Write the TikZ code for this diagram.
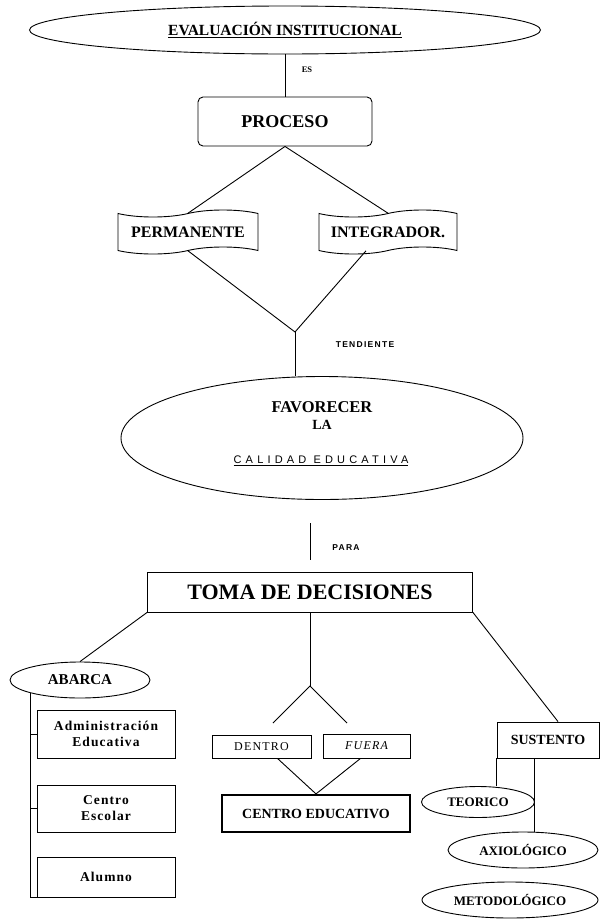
\documentclass[tikz,border=0pt]{standalone}
\usepackage{fontspec}
\setmainfont{Liberation Serif}
\newfontfamily\spacedsans[LetterSpace=38]{Liberation Sans}
\newfontfamily\tightsans[LetterSpace=15]{Liberation Sans}
\newfontfamily\spacedserif[LetterSpace=8]{Liberation Serif}
\newfontfamily\lightserif[LetterSpace=10]{Liberation Serif}
\usetikzlibrary{shapes.geometric,shapes.symbols,calc}
\begin{document}
\begin{tikzpicture}[x=1pt,y=-1pt,line width=0.9pt,
  lbl/.style={inner sep=0pt,font=\tightsans\bfseries\fontsize{8.5}{9}\selectfont},
  rbox/.style={draw,rectangle,inner sep=0pt,align=center},
  ell/.style={draw,ellipse,inner sep=0pt,align=center},
  ribbon/.style={draw,tape,inner sep=0pt,tape bend height=7pt,
    font=\bfseries\fontsize{16}{18}\selectfont},
  bigb/.style={font=\bfseries\fontsize{#1}{#1}\selectfont},
  smallbox/.style={rbox,minimum width=138pt,font=\spacedserif\bfseries\fontsize{13.5}{16}\selectfont}]
\useasboundingbox (0,0) rectangle (601,919);

% top
\node[ell,minimum width=511pt,minimum height=48pt,bigb=15.5] (eval) at (285,30) {\underline{EVALUACIÓN INSTITUCIONAL}};
\node[inner sep=0pt,bigb=8.5] (es) at (307,70) {ES};
\node[rbox,rounded corners=5pt,minimum width=174pt,minimum height=49pt,bigb=18] (proc) at (285,121.5) {PROCESO};
\draw (eval.south) -- (proc.north);

\node[ribbon,minimum width=140pt,minimum height=44pt] (perm) at (188,232) {PERMANENTE};
\node[ribbon,minimum width=138pt,minimum height=44pt] (integ) at (388,232) {INTEGRADOR.};
\draw (proc.south) -- (perm.north);
\draw (proc.south) -- (integ.north);

\coordinate (j1) at (295,332);
\draw (perm.south) -- (j1) -- ($(integ.south)+(-22,0)$);

\node[lbl] (tend) at (365,345) {TENDIENTE};

% favorecer
\node[ell,minimum width=402pt,minimum height=123pt] (fav) at (322,438) {};
\node[bigb=16.5,inner sep=0pt] (favt) at (322,407) {FAVORECER};
\node[bigb=14,inner sep=0pt] (lat) at (322,425) {LA};
\node[inner sep=0pt,font=\spacedsans\fontsize{11}{12}\selectfont] (cal) at (321,461) {\underline{CALIDAD EDUCATIVA}};
\draw (j1) -- (j1 |- fav.north);

% para
\coordinate (pa) at (310,523);
\coordinate (pb) at (310,560);
\draw (pa) -- (pb);
\node[lbl] (para) at (346,548) {PARA};

% toma
\node[rbox,minimum width=325pt,minimum height=40pt,bigb=22] (toma) at (310,592) {TOMA DE DECISIONES};

% left branch
\node[ell,minimum width=140pt,minimum height=36pt,bigb=15] (abarca) at (80,680) {ABARCA};
\draw (toma.south west) -- (abarca.north);
\node[smallbox,minimum height=48pt] (admin) at (106,734) {Administración\\Educativa};
\node[smallbox,minimum height=47pt] (cesc) at (106,808.5) {Centro\\Escolar};
\node[smallbox,minimum height=40pt] (alum) at (106,877) {Alumno};
\draw (abarca.195) |- (alum.south west);
\draw (admin.west) -- (admin.west -| abarca.195);
\draw (cesc.west) -- (cesc.west -| abarca.195);

% middle branch
\coordinate (jm) at (310,686);
\coordinate (fl) at (273,723);
\coordinate (fr) at (347,723);
\draw (toma.south) -- (jm);
\draw (fl) -- (jm) -- (fr);
\node[rbox,minimum width=99pt,minimum height=23pt,font=\lightserif\fontsize{12}{13}\selectfont] (dentro) at (261.5,746.5) {DENTRO};
\node[rbox,minimum width=87pt,minimum height=24pt,font=\lightserif\itshape\fontsize{12}{13}\selectfont] (fuera) at (366.5,746) {FUERA};
\node[rbox,line width=2.2pt,minimum width=188pt,minimum height=37pt,bigb=14] (cedu) at (316,813.5) {CENTRO EDUCATIVO};
\draw ($(dentro.south)+(16,0)$) -- (cedu.north);
\draw ($(fuera.south)+(-6,0)$) -- (cedu.north);

% right branch
\node[rbox,minimum width=102pt,minimum height=36pt,bigb=14] (sust) at (548,740) {SUSTENTO};
\draw (toma.south east) -- ($(sust.north)+(10,0)$);
\node[ell,minimum width=113pt,minimum height=31pt,bigb=13] (teo) at (478,802) {TEORICO};
\node[ell,minimum width=150pt,minimum height=36pt,bigb=13] (axi) at (523,850) {AXIOLÓGICO};
\node[ell,minimum width=176pt,minimum height=36pt,bigb=13] (meto) at (510,900) {METODOLÓGICO};
\draw (sust.south west) -- (sust.south west |- teo.north);
\coordinate (sv) at ($(sust.south west)+(38,0)$);
\draw (sv) -- (sv |- axi.north);
\end{tikzpicture}
\end{document}
